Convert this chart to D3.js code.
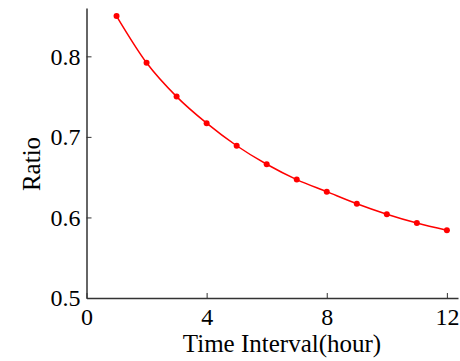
<!DOCTYPE html>
<html><head><meta charset="utf-8">
<script src="https://cdn.jsdelivr.net/npm/d3@7"></script>
<style>body{margin:0;background:#fff}svg{display:block}text{font-family:"Liberation Serif","DejaVu Serif",serif !important}</style>
</head><body>
<script>
const hours = [1,2,3,4,5,6,7,8,9,10,11,12];
const ratios = [0.850,0.792,0.750,0.717,0.689,0.666,0.647,0.632,0.617,0.604,0.593,0.584];
const xTicks = [0,4,8,12];
const yTicks = [0.5,0.6,0.7,0.8];

const W=460,H=361;
const svg=d3.select("body").append("svg").attr("width",W).attr("height",H);
const x=d3.scaleLinear().domain([0,12.37]).range([86.5,458]);
const y=d3.scaleLinear().domain([0.5,0.86]).range([298,8]);

const xa=svg.append("g").attr("transform","translate(0,298)")
  .call(d3.axisBottom(x).tickValues(xTicks).tickFormat(d3.format("d")).tickSizeInner(-5).tickSizeOuter(0).tickPadding(10));
const ya=svg.append("g").attr("transform","translate(86.5,0)")
  .call(d3.axisLeft(y).tickValues(yTicks).tickFormat(d3.format(".1f")).tickSizeInner(-5).tickSizeOuter(0).tickPadding(6));
[xa,ya].forEach(a=>{
  a.attr("font-family",null);
  a.select(".domain").attr("stroke","#333").attr("stroke-width",1.5);
  a.selectAll(".tick line").attr("stroke","#333").attr("stroke-width",1);
  a.selectAll("text").style("font-size","24px").attr("fill","#000");
});
xa.selectAll("text").attr("dy","0.71em");

const line=d3.line().x((d,i)=>x(hours[i])).y(d=>y(d)).curve(d3.curveMonotoneX);
svg.append("path").datum(ratios).attr("d",line).attr("fill","none").attr("stroke","#ff0000").attr("stroke-width",1.5);
svg.selectAll("circle.pt").data(ratios).enter().append("circle").attr("class","pt")
  .attr("cx",(d,i)=>x(hours[i])).attr("cy",d=>y(d)).attr("r",3).attr("fill","#ff0000");

svg.append("text").attr("x",282).attr("y",352).attr("text-anchor","middle")
  .style("font-size","25px").text("Time Interval(hour)");
svg.append("text").attr("transform","translate(40,164) rotate(-90)").attr("text-anchor","middle")
  .style("font-size","25px").text("Ratio");
</script>
</body></html>
